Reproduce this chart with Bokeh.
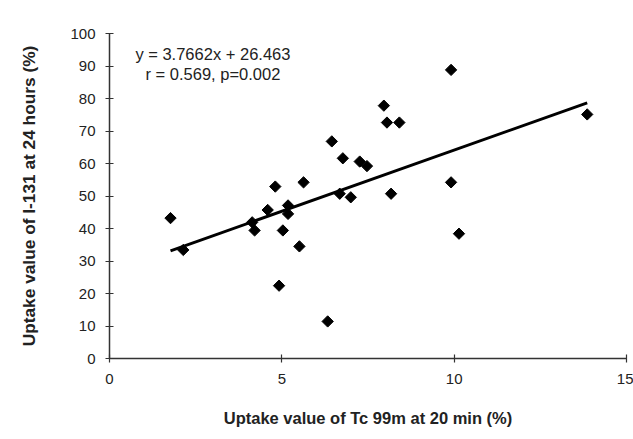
from bokeh.plotting import figure
from bokeh.models import Range1d, FixedTicker, ColumnDataSource
from bokeh.core.properties import value
from bokeh.embed import file_html
from bokeh.resources import INLINE
import math

tc_uptake = [1.77, 2.14, 4.14, 4.21, 4.59, 4.81, 4.92, 5.03, 5.18, 5.18, 5.51, 5.63, 6.33, 6.45,
             6.68, 6.77, 7.00, 7.26, 7.47, 7.96, 8.05, 8.17, 8.41, 9.91, 9.91, 10.14, 13.86]
i131_uptake = [43.2, 33.4, 41.9, 39.4, 45.7, 52.9, 22.4, 39.4, 47.1, 44.5, 34.5, 54.2, 11.4, 66.8,
               50.7, 61.6, 49.6, 60.6, 59.2, 77.8, 72.6, 50.7, 72.6, 88.8, 54.2, 38.4, 75.1]
slope = 3.7662
intercept = 26.463
x_ticks = [0, 5, 10, 15]
y_ticks = [0, 10, 20, 30, 40, 50, 60, 70, 80, 90, 100]
eq_lines = ["y = 3.7662x + 26.463", "r = 0.569, p=0.002"]
x_title = "Uptake value of Tc 99m at 20 min (%)"
y_title = "Uptake value of I-131 at 24 hours (%)"

FONT = "Liberation Sans"

p = figure(width=633, height=436, output_backend="svg", toolbar_location=None,
           x_range=Range1d(0, 15), y_range=Range1d(0, 100),
           min_border_left=109, min_border_right=7, min_border_top=33, min_border_bottom=78)
p.outline_line_color = None
p.xgrid.visible = False
p.ygrid.visible = False
p.background_fill_color = "white"
p.border_fill_color = "white"

for ax in (p.xaxis[0], p.yaxis[0]):
    ax.axis_line_color = "#333333"
    ax.axis_line_width = 1.5
    ax.major_tick_line_color = "#333333"
    ax.major_tick_line_width = 1.2
    ax.major_tick_in = 4
    ax.major_tick_out = 4
    ax.minor_tick_line_color = None
    ax.major_label_text_font = FONT
    ax.major_label_text_font_size = "15px"
    ax.major_label_text_color = "#222222"
    ax.axis_label_text_font = FONT
    ax.axis_label_text_font_style = "bold"
    ax.axis_label_text_color = "#222222"

p.xaxis.ticker = FixedTicker(ticks=x_ticks)
p.yaxis.ticker = FixedTicker(ticks=y_ticks)
p.xaxis.major_label_standoff = 11
p.yaxis.major_label_standoff = 10
p.xaxis.axis_label = x_title
p.yaxis.axis_label = y_title
p.xaxis.axis_label_text_font_size = "16.5px"
p.yaxis.axis_label_text_font_size = "17.3px"
p.xaxis.axis_label_standoff = 22
p.yaxis.axis_label_standoff = 28

# trend line over data extent
x0, x1 = min(tc_uptake), max(tc_uptake)
p.line([x0, x1], [slope * x0 + intercept, slope * x1 + intercept], line_color="black", line_width=3)

src = ColumnDataSource(dict(x=tc_uptake, y=i131_uptake))
p.scatter("x", "y", source=src, marker="square", size=8, angle=math.pi / 4,
          fill_color="black", line_color="black", line_width=1)

p.text(x=[3.0, 3.0], y=[93.7, 87.5], text=eq_lines, text_font=value(FONT),
       text_font_size="16.5px", text_align="center", text_baseline="middle", text_color="#222222")

open("out.html", "w").write(file_html(p, INLINE))
